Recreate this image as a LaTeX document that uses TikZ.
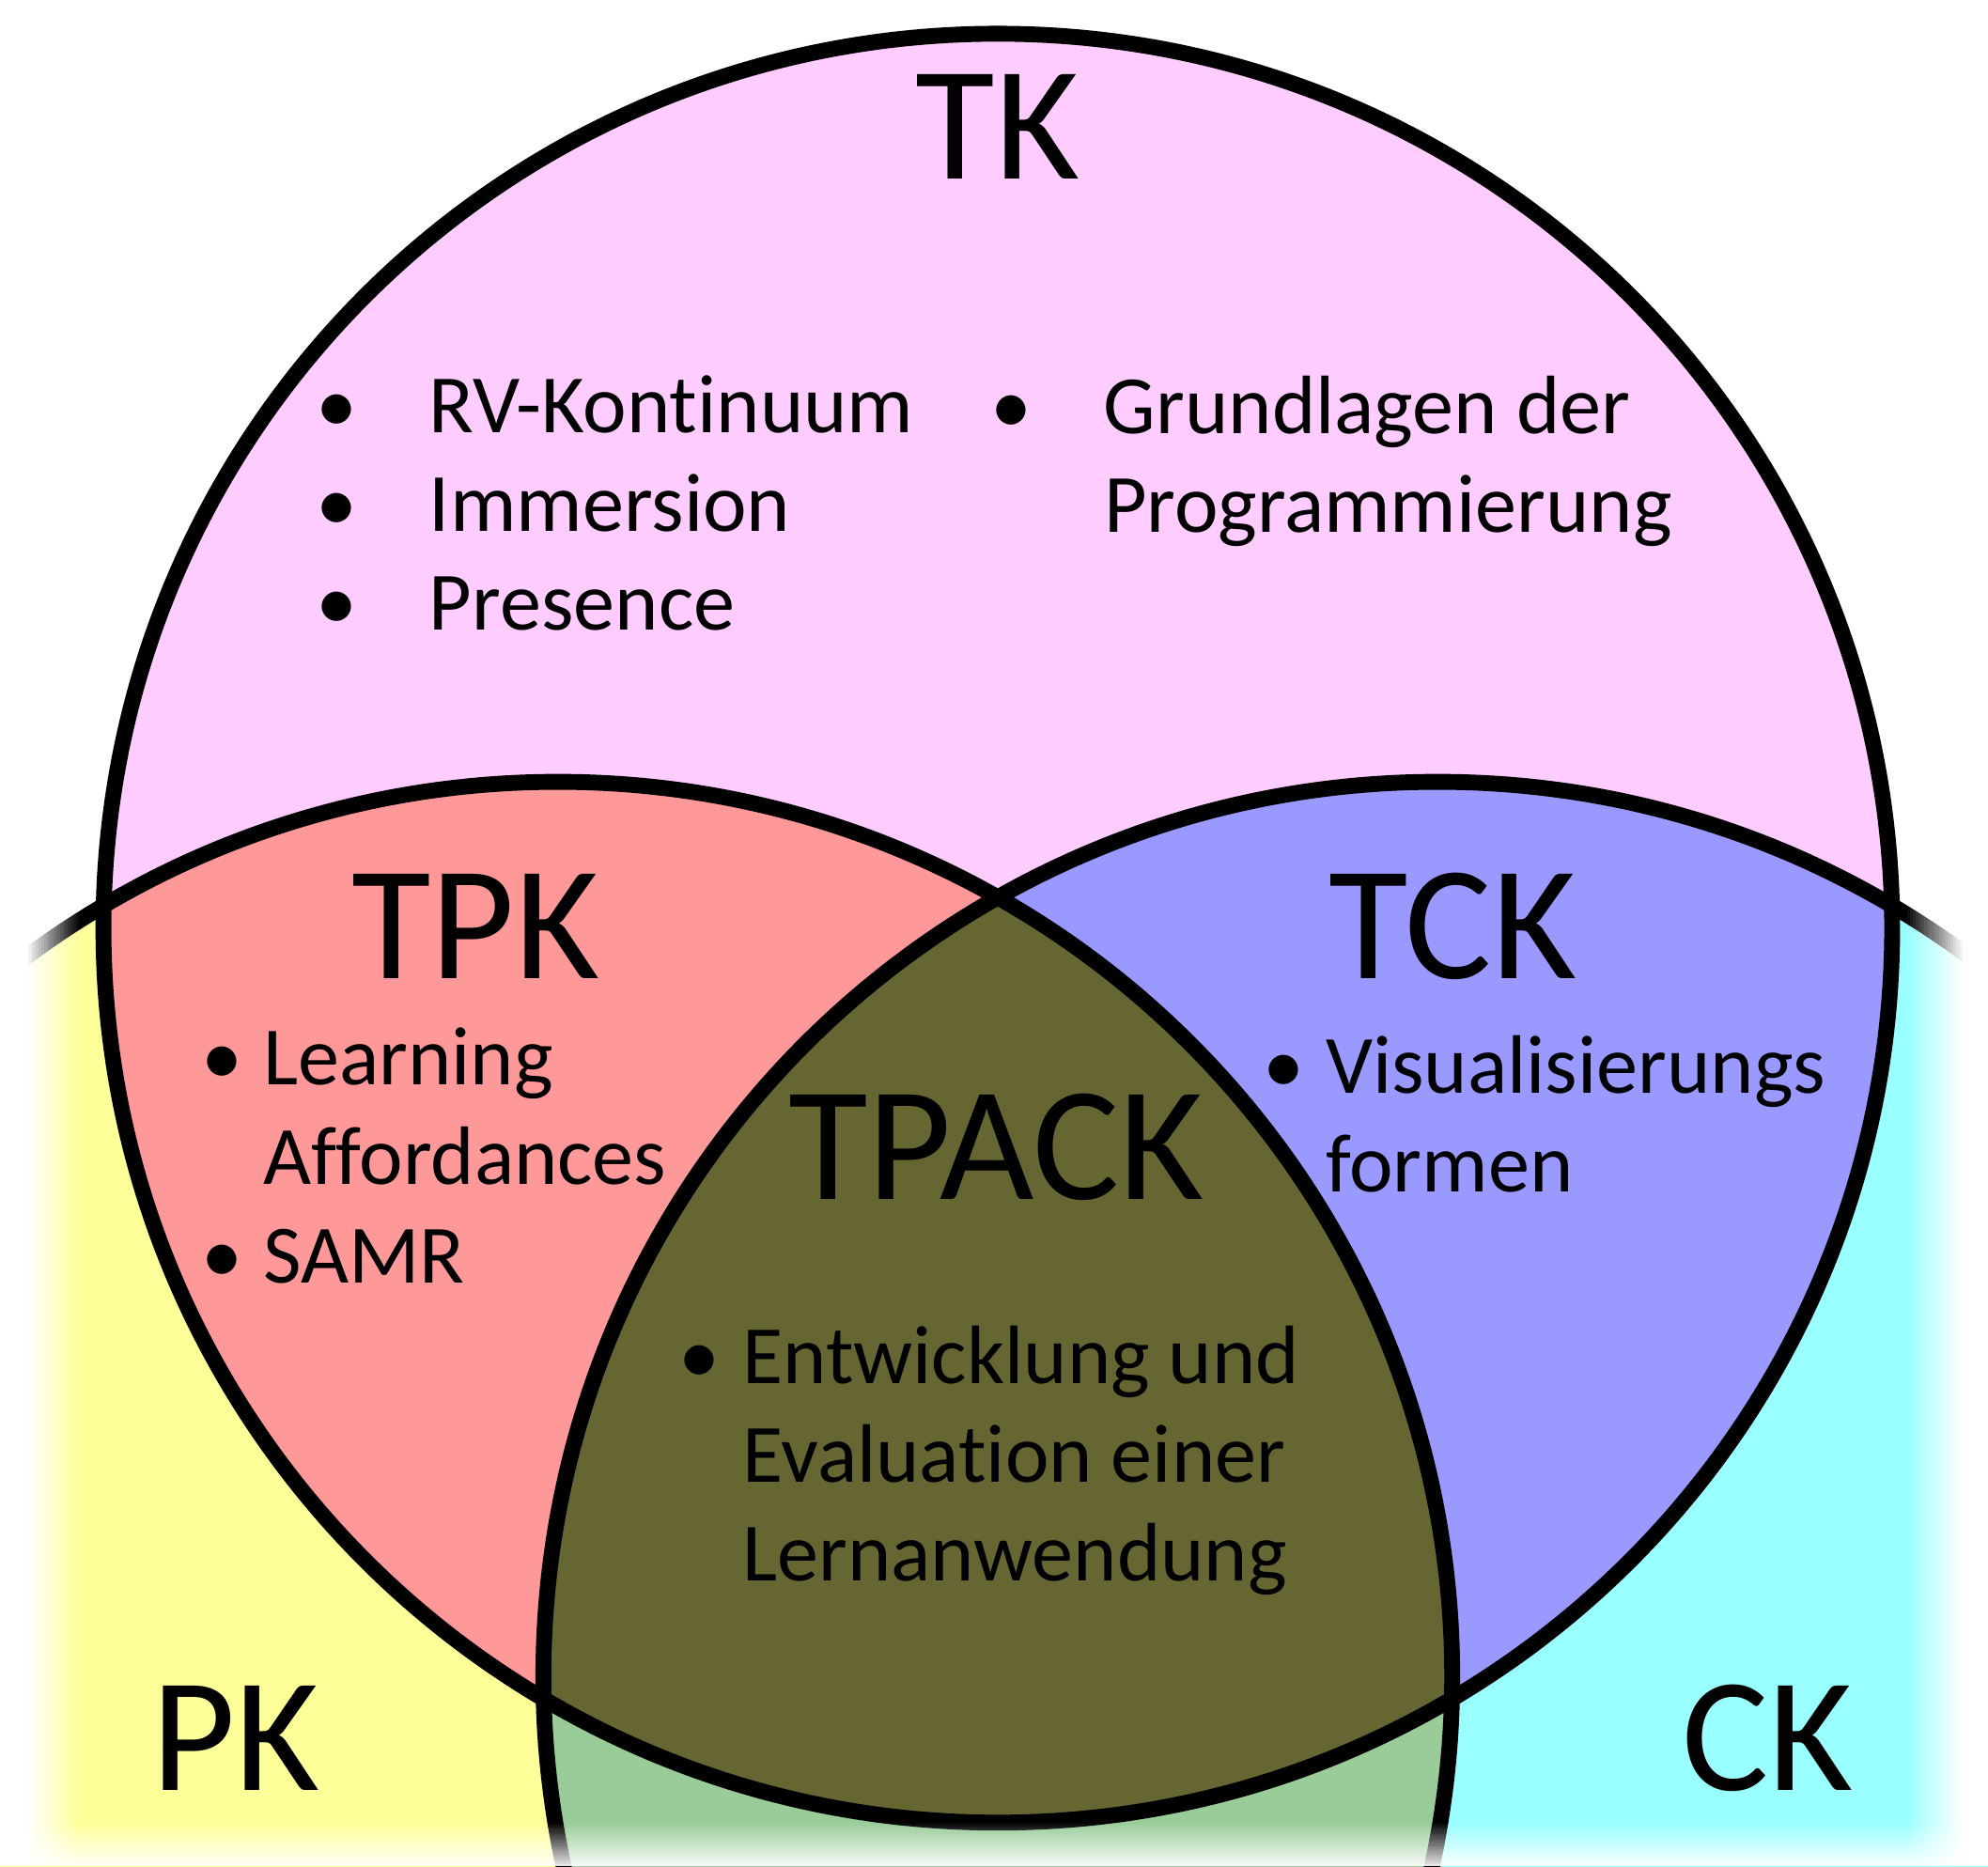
\documentclass[tikz,border=0pt]{standalone}
\usepackage{fontspec}
\setmainfont{Carlito}[Ligatures={NoCommon,NoContextual},Contextuals=NoAlternate]
\usepackage[RGB]{xcolor}
\usepackage{tikz}
\definecolor{TK}{RGB}{255,204,255}
\definecolor{PK}{RGB}{255,255,153}
\definecolor{CK}{RGB}{153,255,255}
\definecolor{TPK}{RGB}{255,153,153}
\definecolor{TCK}{RGB}{153,153,255}
\definecolor{PCK}{RGB}{153,204,153}
\definecolor{TPACK}{RGB}{102,102,51}
\newcommand{\circTK}{(787,732) circle[radius=7.05cm]}
\newcommand{\circPK}{(440,1322) circle[radius=7.05cm]}
\newcommand{\circCK}{(1134,1322) circle[radius=7.05cm]}
\newcommand{\drawthick}{\draw[line width=0.125cm]}
\newcommand{\bul}[1]{\llap{•\hspace{#1}}}
\tikzset{
  title/.style={font=\fontsize{36.5}{40}\selectfont, anchor=base, inner sep=0pt},
  itemlist/.style={font=\fontsize{18.6}{22.2}\selectfont, align=left, anchor=base west, inner sep=0pt}
}

\begin{document}
\begin{tikzpicture}[x=0.01cm,y=-0.01cm]
\useasboundingbox (0,0) rectangle (1568,1472);
\clip (0,0) rectangle (1568,1472);
% the three circles and their overlaps
\fill[PK] \circPK; \fill[CK] \circCK; \fill[TK] \circTK;
\begin{scope}
  \clip \circTK; \fill[TPK] \circPK; \fill[TCK] \circCK;
\end{scope}
\begin{scope}
  \clip \circPK; \fill[PCK] \circCK;
  \clip \circCK; \fill[TPACK] \circTK;
\end{scope}
\drawthick \circPK; \drawthick \circCK; \drawthick \circTK;
% soft edges
\fill[white] (0,0) rectangle (20,1472);
\fill[white] (1550,0) rectangle (1568,1472);
\foreach \i [evaluate=\i as \op using 1-\i/20] in {0,...,19}{
  \fill[white, opacity=\op] (20+2.1*\i,0) rectangle ++(2.1,1472);
  \fill[white, opacity=\op] (1550-2.3*\i,0) rectangle ++(-2.3,1472);
  \fill[white, opacity=\op*0.9] (0,1472-1.7*\i) rectangle ++(1568,-1.7);
}
% labels
\node[title] (tk) at (787,141) {TK};
\node[title] (tpk) at (375,772) {TPK};
\node[title] (tck) at (1146,772) {TCK};
\node[title] (tpack) at (786,946) {TPACK};
\node[title] (pk) at (186,1412) {PK};
\node[title] (ck) at (1394,1412) {CK};
\node[itemlist] (tklist) at (338,497) {\bul{0.57cm}RV-Kontinuum\\\bul{0.57cm}Immersion\\\bul{0.57cm}Presence};
\node[itemlist] (tklisttwo) at (870,420) {\bul{0.57cm}Grundlagen der\\Programmierung};
\node[itemlist] (tpklist) at (207,1012) {\bul{0.16cm}Learning\\Affordances\\\bul{0.16cm}SAMR};
\node[itemlist] (tcklist) at (1045,940) {\bul{0.17cm}Visualisierungs\\formen};
\node[itemlist] (tpacklist) at (585,1247) {\bul{0.18cm}Entwicklung und\\Evaluation einer\\Lernanwendung};
\end{tikzpicture}
\end{document}
